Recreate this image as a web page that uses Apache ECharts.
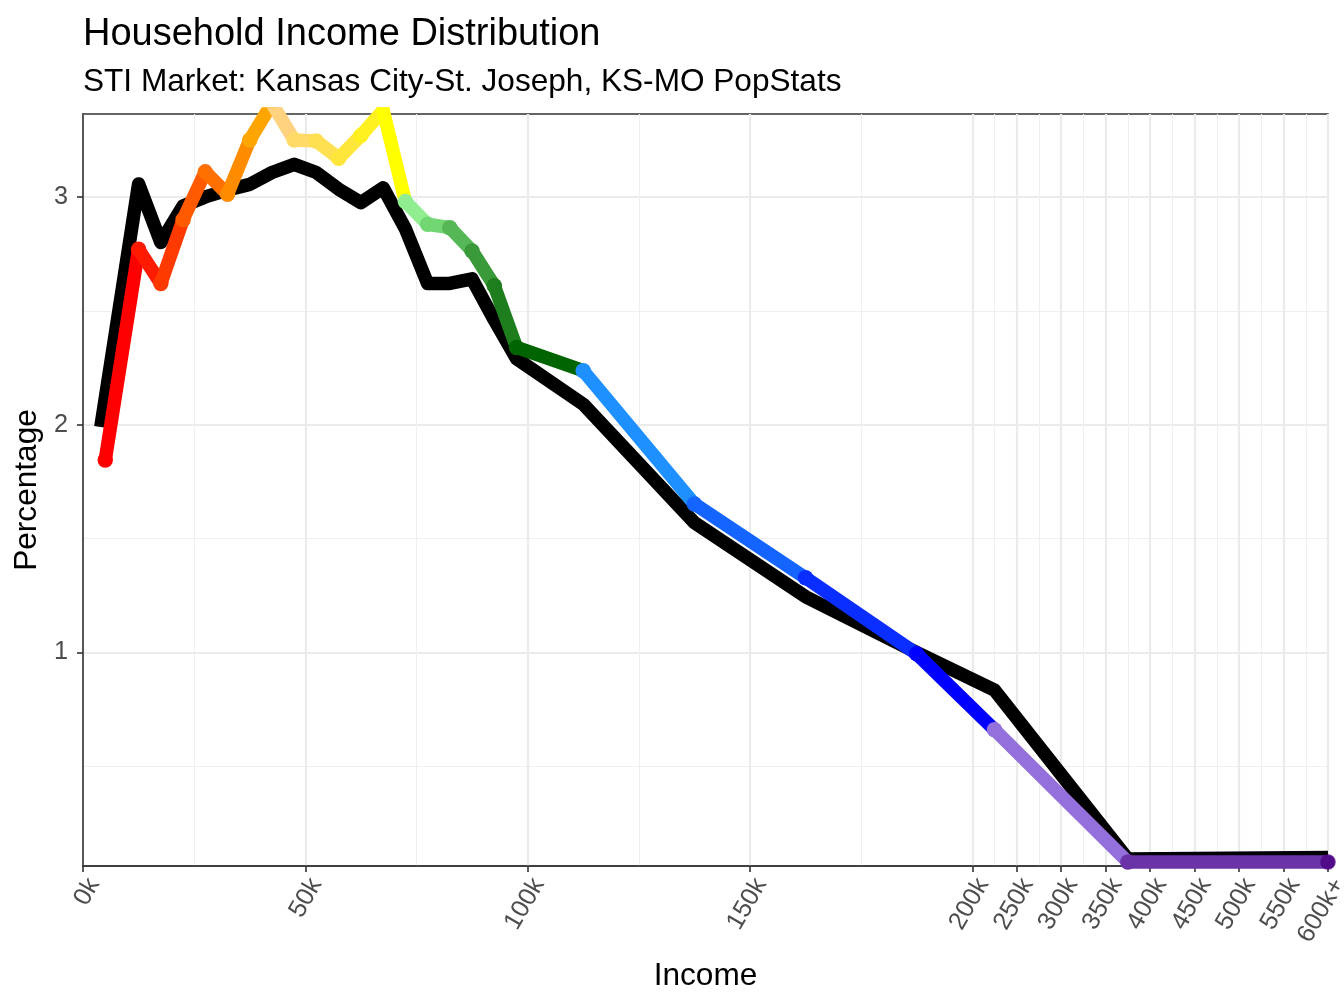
<!DOCTYPE html>
<html><head><meta charset="utf-8">
<script src="https://cdn.jsdelivr.net/npm/echarts@6/dist/echarts.min.js"></script>
<style>html,body{margin:0;padding:0;background:#fff}#c{width:1344px;height:1008px}</style>
</head><body><div id="c"></div>
<script>
// ---- data (income in thousands, percentage of households) ----
const marketIncomeK = [5, 12.5, 17.5, 22.5, 27.5, 32.5, 37.5, 42.5, 47.5, 52.5, 57.5, 62.5, 67.5, 72.5, 77.5, 82.5, 87.5, 92.5, 97.5, 112.5, 137.5, 162.5, 187.5, 225, 375, 600];
const marketPct = [1.845, 2.77, 2.62, 2.90, 3.11, 3.012, 3.25, 3.41, 3.25, 3.245, 3.17, 3.27, 3.38, 2.98, 2.88, 2.865, 2.763, 2.61, 2.339, 2.237, 1.652, 1.328, 0.994, 0.661, 0.080, 0.080];
const marketColors = ['#FF0000', '#FF1A00', '#FF3A00', '#FF5A00', '#FF7000', '#FF8C00', '#FFA500', '#FFD27F', '#FFDA66', '#FFE050', '#FFE63A', '#FFF020', '#FFFF00', '#90EE90', '#72D672', '#55B755', '#3A9A3A', '#1E7E1E', '#006400', '#1E90FF', '#1464FF', '#0A2EFF', '#0000FF', '#9370DB', '#6A33A8', '#4B0082'];
const benchIncomeK = [4, 12.5, 17.5, 22.5, 27.5, 32.5, 37.5, 42.5, 47.5, 52.5, 57.5, 62.5, 67.5, 72.5, 77.5, 82.5, 87.5, 92.5, 97.5, 112.5, 137.5, 162.5, 187.5, 225, 375, 600];
const benchPct = [1.99, 3.057, 2.80, 2.96, 3.0, 3.03, 3.055, 3.107, 3.143, 3.107, 3.034, 2.975, 3.04, 2.86, 2.62, 2.62, 2.64, 2.46, 2.29, 2.09, 1.57, 1.245, 1.0, 0.835, 0.093, 0.10];
const xMajorK = [0, 50, 100, 150, 200, 250, 300, 350, 400, 450, 500, 550, 600];
const xMajorLabels = ['0k', '50k', '100k', '150k', '200k', '250k', '300k', '350k', '400k', '450k', '500k', '550k', '600k+'];
const xMinorK = [25, 75, 125, 175, 225, 275, 325, 375, 425, 475, 525, 575];
const yMajor = [1, 2, 3];
const yMinor = [0.5, 1.5, 2.5];
const yRange = [0.0627, 3.364];

// axis transform: linear to 200k, compressed 5x above
function tx(k) { return k <= 200 ? k : 200 + (k - 200) / 5; }
const xMax = tx(600);

const FONT = 'Liberation Sans, Arial, sans-serif';
const LW = 13.5;

const series = [];
series.push({
  type: 'line', name: 'bench', z: 2,
  data: benchIncomeK.map((k, i) => [tx(k), benchPct[i]]),
  showSymbol: false, symbol: 'none',
  lineStyle: { color: '#000000', width: LW, cap: 'butt', join: 'round' }
});
for (let i = 0; i < marketIncomeK.length - 1; i++) {
  series.push({
    type: 'line', z: 3,
    data: [
      { value: [tx(marketIncomeK[i]), marketPct[i]], symbol: 'circle', symbolSize: LW + 2 },
      { value: [tx(marketIncomeK[i + 1]), marketPct[i + 1]], symbol: 'none' }
    ],
    showSymbol: true,
    itemStyle: { color: marketColors[i] },
    lineStyle: { color: marketColors[i], width: LW, cap: 'round', join: 'round' }
  });
}
const last = marketIncomeK.length - 1;
series.push({
  type: 'scatter', z: 4,
  data: [[tx(marketIncomeK[last]), marketPct[last]]],
  symbolSize: LW + 2,
  itemStyle: { color: marketColors[last] }
});

const majorT = xMajorK.map(tx);
const option = {
  animation: false,
  backgroundColor: '#ffffff',
  textStyle: { fontFamily: FONT },
  title: [
    { text: 'Household Income Distribution', left: 83, top: 15, padding: 0,
      textStyle: { fontFamily: FONT, fontSize: 38, fontWeight: 'normal', color: '#000', lineHeight: 40 } },
    { text: 'STI Market: Kansas City-St. Joseph, KS-MO PopStats', left: 83, top: 65, padding: 0,
      textStyle: { fontFamily: FONT, fontSize: 31.6, fontWeight: 'normal', color: '#000', lineHeight: 34 } }
  ],
  grid: { left: 83, right: 16, top: 114, bottom: 142, containLabel: false, outerBoundsMode: 'none',
    show: true, borderColor: '#333333', borderWidth: 1.6, backgroundColor: 'transparent' },
  xAxis: [
    {
      type: 'value', min: 0, max: xMax, position: 'bottom',
      name: 'Income', nameLocation: 'middle', nameGap: 94,
      nameTextStyle: { fontFamily: FONT, fontSize: 31.6, color: '#000' },
      axisLine: { show: true, lineStyle: { color: '#333333', width: 1.6 } },
      axisTick: { show: true, customValues: majorT, length: 6, lineStyle: { color: '#333333', width: 1.6 } },
      axisLabel: {
        customValues: majorT, rotate: 60, margin: 8, fontSize: 25.3, color: '#4D4D4D', fontFamily: FONT,
        align: 'right', verticalAlign: 'top', hideOverlap: false,
        formatter: function (v) {
          let best = 0, bd = 1e9;
          majorT.forEach((t, i) => { const d = Math.abs(t - v); if (d < bd) { bd = d; best = i; } });
          return xMajorLabels[best];
        }
      },
      splitLine: { show: true, lineStyle: { color: '#EBEBEB', width: 2.2 } }
    },
    {
      type: 'value', min: 0, max: xMax, position: 'bottom',
      axisLine: { show: false },
      axisTick: { show: false, customValues: xMinorK.map(tx) },
      axisLabel: { show: false, customValues: xMinorK.map(tx) },
      splitLine: { show: true, lineStyle: { color: '#EFEFEF', width: 1.1 } }
    }
  ],
  yAxis: [
    {
      type: 'value', min: yRange[0], max: yRange[1],
      name: 'Percentage', nameLocation: 'middle', nameGap: 33, nameRotate: 90,
      nameTextStyle: { fontFamily: FONT, fontSize: 31.6, color: '#000' },
      axisLine: { show: true, lineStyle: { color: '#333333', width: 1.6 } },
      axisTick: { show: true, customValues: yMajor, length: 6, lineStyle: { color: '#333333', width: 1.6 } },
      axisLabel: { customValues: yMajor, margin: 15, fontSize: 25.3, color: '#4D4D4D', fontFamily: FONT },
      splitLine: { show: true, lineStyle: { color: '#EBEBEB', width: 2.2 } }
    },
    {
      type: 'value', min: yRange[0], max: yRange[1],
      axisLine: { show: false },
      axisTick: { show: false, customValues: yMinor },
      axisLabel: { show: false, customValues: yMinor },
      splitLine: { show: true, lineStyle: { color: '#EFEFEF', width: 1.1 } }
    }
  ],
  series: series
};
const chart = echarts.init(document.getElementById('c'), null, { renderer: 'canvas' });
chart.setOption(option);
</script></body></html>
